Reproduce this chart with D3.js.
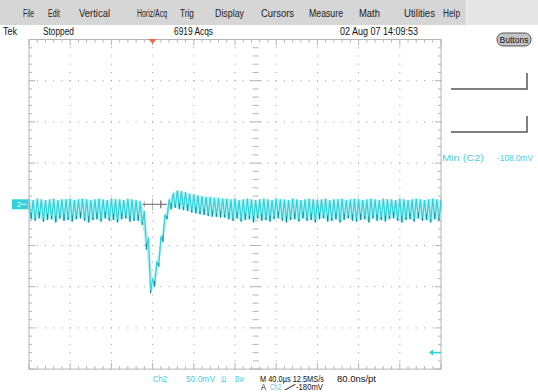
<!DOCTYPE html>
<html>
<head>
<meta charset="utf-8">
<script src="https://cdn.jsdelivr.net/npm/d3@7"></script>
<style>
  body { margin: 0; background: #fff; }
  text { font-family: "Liberation Sans", Arial, sans-serif; }
</style>
</head>
<body>
<div id="scope"></div>
<script>
/* Data */
/* ==== */

var menuItems = ["File", "Edit", "Vertical", "Horiz/Acq", "Trig", "Display",
                 "Cursors", "Measure", "Math", "Utilities", "Help"];

var statusText = ["Tek", "Stopped", "6919 Acqs", "02 Aug 07 14:09:53"];

var timeRange = [-120, 280];     // µs, 40 µs/div
var voltRange = [-200, 200];     // mV, 50 mV/div
var sampleStep = 4;              // µs between ripple peaks

// ripple peaks (mV), one every 4 µs from -120 µs
var upper = [
  6, 5, 7, 6, 5, 6, 7, 5, 6, 6,
  7, 5, 6, 7, 6, 5, 6, 7, 6, 5,
  7, 6, 6, 5, 7, 6, 5, 4, -8, -40,
  -90, -70, -40, -12, 6, 14, 17, 16, 15, 13,
  12, 11, 10, 9, 9, 8, 8, 7, 7, 6,
  7, 5, 6, 7, 6, 5, 6, 7, 6, 5,
  7, 6, 6, 5, 7, 6, 5, 6, 7, 6,
  5, 6, 7, 5, 6, 6, 7, 5, 6, 7,
  6, 5, 6, 7, 6, 5, 7, 6, 6, 5,
  7, 6, 5, 6, 7, 6, 5, 6, 7, 6,
  5
];

// ripple troughs (mV), one every 4 µs from -118 µs
var lower = [
  -18, -20, -17, -21, -19, -18, -22, -17, -20, -19,
  -21, -18, -17, -20, -22, -19, -18, -21, -17, -20,
  -19, -22, -18, -17, -21, -20, -20, -25, -55, -108,
  -100, -75, -45, -18, -6, -4, -6, -7, -8, -10,
  -11, -12, -13, -14, -15, -15, -16, -16, -18, -20,
  -17, -21, -19, -18, -22, -17, -20, -19, -21, -18,
  -17, -20, -22, -19, -18, -21, -17, -20, -19, -22,
  -18, -17, -21, -20, -18, -22, -19, -17, -20, -21,
  -19, -18, -22, -17, -20, -19, -21, -18, -17, -20,
  -22, -19, -18, -21, -17, -20, -19, -22, -18, -20
];

var triggerLevel = -180;   // mV
var measureLabel = "Min (C2)";
var measureValue = "-108.0mV";


/* Layout */
/* ====== */

var width = 538,
    height = 392;

var cyan = "#2fd2da",
    cyanText = "#49cde0",
    gridGrey = "#b4b4b4";

var svg = d3.select("#scope").append("svg")
    .attr("width", width)
    .attr("height", height);

svg.append("rect").attr("width", width).attr("height", height).attr("fill", "#fff");

// scales for the graticule
var x = d3.scaleLinear().domain(timeRange).range([29, 441]);
var y = d3.scaleLinear().domain(voltRange).range([369.1, 39.5]);

// menu bar
var barH = 25;
svg.append("rect").attr("x", 0).attr("y", 0).attr("width", 466).attr("height", barH)
    .attr("fill", "#d6d6d6");
svg.append("rect").attr("x", 466).attr("y", 0).attr("width", width - 466).attr("height", barH)
    .attr("fill", "#e6e6e6");
svg.append("line").attr("x1", 466.5).attr("x2", 466.5).attr("y1", 0).attr("y2", barH)
    .attr("stroke", "#f4f4f4");

var menuX = [23, 48, 79, 137, 180, 215, 261, 309, 359, 404, 443],
    menuW = [11, 12, 31, 30, 14, 29, 33, 34, 21, 31, 17];
svg.selectAll("text.menu")
  .data(menuItems)
  .enter().append("text")
    .attr("class", "menu")
    .attr("x", function(d, i) { return menuX[i]; })
    .attr("y", 17)
    .attr("font-size", 10)
    .attr("textLength", function(d, i) { return menuW[i]; })
    .attr("lengthAdjust", "spacingAndGlyphs")
    .attr("fill", "#222")
    .text(function(d) { return d; });

// status row
var statusX = [3, 43, 174, 340],
    statusW = [14, 31, 39, 78];
svg.selectAll("text.status")
  .data(statusText)
  .enter().append("text")
    .attr("class", "status")
    .attr("x", function(d, i) { return statusX[i]; })
    .attr("y", 35)
    .attr("font-size", 10)
    .attr("textLength", function(d, i) { return statusW[i]; })
    .attr("lengthAdjust", "spacingAndGlyphs")
    .attr("fill", "#111")
    .text(function(d) { return d; });

// Buttons
svg.append("rect").attr("x", 497).attr("y", 33).attr("width", 34).attr("height", 13)
    .attr("rx", 6).attr("fill", "#c4c4c4").attr("stroke", "#555").attr("stroke-width", 1);
svg.append("text").attr("x", 514).attr("y", 43).attr("text-anchor", "middle")
    .attr("font-size", 8.5).attr("fill", "#111").text("Buttons");


/* Graticule */
/* ========= */

var g = svg.append("g");
var divT = d3.range(timeRange[0], timeRange[1] + 1, 40),
    divV = d3.range(voltRange[0], voltRange[1] + 1, 50),
    minorT = d3.range(timeRange[0], timeRange[1] + 1, 8),
    minorV = d3.range(voltRange[0], voltRange[1] + 1, 10);

// dotted grid
divT.slice(1, -1).forEach(function(t) {
  minorV.forEach(function(v) {
    g.append("rect").attr("x", x(t) - 0.5).attr("y", y(v) - 0.5)
      .attr("width", 1).attr("height", 1).attr("fill", "#9a9a9a");
  });
});
divV.slice(1, -1).forEach(function(v) {
  minorT.forEach(function(t) {
    g.append("rect").attr("x", x(t) - 0.5).attr("y", y(v) - 0.5)
      .attr("width", 1).attr("height", 1).attr("fill", "#9a9a9a");
  });
});

// border
g.append("rect")
    .attr("x", x(timeRange[0])).attr("y", y(voltRange[1]))
    .attr("width", x(timeRange[1]) - x(timeRange[0]))
    .attr("height", y(voltRange[0]) - y(voltRange[1]))
    .attr("fill", "none").attr("stroke", gridGrey).attr("stroke-width", 1);

function isMajorT(t) { return (t - timeRange[0]) % 40 === 0; }
function isMajorV(v) { return (v - voltRange[0]) % 50 === 0; }

// border ticks and center-line ticks
minorT.forEach(function(t) {
  var len = isMajorT(t) ? 6 : 3;
  g.append("line").attr("x1", x(t)).attr("x2", x(t))
    .attr("y1", y(voltRange[1])).attr("y2", y(voltRange[1]) + len)
    .attr("stroke", gridGrey);
  g.append("line").attr("x1", x(t)).attr("x2", x(t))
    .attr("y1", y(voltRange[0])).attr("y2", y(voltRange[0]) - len)
    .attr("stroke", gridGrey);
  g.append("line").attr("x1", x(t)).attr("x2", x(t))
    .attr("y1", y(0) - len).attr("y2", y(0) + len)
    .attr("stroke", gridGrey);
});
minorV.forEach(function(v) {
  var len = isMajorV(v) ? 6 : 3;
  g.append("line").attr("y1", y(v)).attr("y2", y(v))
    .attr("x1", x(timeRange[0])).attr("x2", x(timeRange[0]) + len)
    .attr("stroke", gridGrey);
  g.append("line").attr("y1", y(v)).attr("y2", y(v))
    .attr("x1", x(timeRange[1])).attr("x2", x(timeRange[1]) - len)
    .attr("stroke", gridGrey);
  g.append("line").attr("y1", y(v)).attr("y2", y(v))
    .attr("x1", x(100) - len).attr("x2", x(100) + len)
    .attr("stroke", gridGrey);
});


/* Trace */
/* ===== */

var peaks = upper.map(function(v, i) {
  return { t: timeRange[0] + i * sampleStep, v: v };
});
var troughs = lower.map(function(v, i) {
  return { t: timeRange[0] + sampleStep / 2 + i * sampleStep, v: v };
});

var zig = [];
peaks.forEach(function(p, i) {
  zig.push(p);
  if (troughs[i]) zig.push(troughs[i]);
});

var line = d3.line()
    .x(function(d) { return x(d.t); })
    .y(function(d) { return y(d.v); });

// persistence glow between envelopes
svg.append("path")
    .attr("d", line(peaks.concat(troughs.slice().reverse())) + "Z")
    .attr("fill", "#bff0f3");

svg.append("path")
    .attr("d", line(zig))
    .attr("fill", "none")
    .attr("stroke", cyan)
    .attr("stroke-width", 1.2);

// darker persistence at the troughs
svg.selectAll("line.dark")
  .data(troughs)
  .enter().append("line")
    .attr("class", "dark")
    .attr("x1", function(d) { return x(d.t); })
    .attr("x2", function(d) { return x(d.t); })
    .attr("y1", function(d) { return y(d.v); })
    .attr("y2", function(d, i) { return y(d.v) - (i % 2 ? 3 : 6); })
    .attr("stroke", "#1b8088")
    .attr("stroke-width", 1);

// trigger crosshair
svg.append("line").attr("x1", x(-10)).attr("x2", x(14)).attr("y1", y(0)).attr("y2", y(0))
    .attr("stroke", "#666").attr("stroke-width", 1);
svg.append("line").attr("x1", x(8)).attr("x2", x(8)).attr("y1", y(0) - 4).attr("y2", y(0) + 4)
    .attr("stroke", "#666").attr("stroke-width", 1);

// trigger position marker
svg.append("path")
    .attr("d", "M" + (x(0) - 4) + "," + 39 + "L" + (x(0) + 4) + "," + 39 + "L" + x(0) + "," + 44 + "Z")
    .attr("fill", "#f26a3c");

// channel 2 ground marker
svg.append("rect").attr("x", 12).attr("y", y(0) - 5).attr("width", 16).attr("height", 10)
    .attr("fill", cyan);
svg.append("text").attr("x", 17).attr("y", y(0) + 3).attr("font-size", 7)
    .attr("fill", "#fff").text("2");
svg.append("line").attr("x1", 21).attr("x2", 27).attr("y1", y(0)).attr("y2", y(0))
    .attr("stroke", "#fff").attr("stroke-width", 0.8);

// trigger level arrow
svg.append("path")
    .attr("d", "M" + (x(timeRange[1]) - 12) + "," + y(triggerLevel) + "l4,-3l0,6Z")
    .attr("fill", cyan);
svg.append("line").attr("x1", x(timeRange[1]) - 9).attr("x2", x(timeRange[1]))
    .attr("y1", y(triggerLevel)).attr("y2", y(triggerLevel))
    .attr("stroke", cyan).attr("stroke-width", 1.5);


/* Readouts */
/* ======== */

[89, 132].forEach(function(yy) {
  svg.append("path")
    .attr("d", "M451," + yy + "H527V" + (yy - 16))
    .attr("fill", "none").attr("stroke", "#555").attr("stroke-width", 1.5);
});

svg.append("text").attr("x", 442).attr("y", 160.5).attr("font-size", 8.5)
    .attr("textLength", 42).attr("lengthAdjust", "spacingAndGlyphs")
    .attr("fill", cyanText).text(measureLabel);
svg.append("text").attr("x", 497).attr("y", 160.5).attr("font-size", 8.5)
    .attr("textLength", 36).attr("lengthAdjust", "spacingAndGlyphs")
    .attr("fill", cyanText).text(measureValue);

var bottom1 = [
  { s: "Ch2", x: 153, w: 14, c: cyanText },
  { s: "50.0mV", x: 186, w: 29, c: cyanText },
  { s: "\u0428", x: 221, w: 5, c: cyanText },
  { s: "Bw", x: 235, w: 9, c: cyanText },
  { s: "M 40.0\u00b5s 12.5MS/s", x: 260, w: 64, c: "#111" },
  { s: "80.0ns/pt", x: 337, w: 39, c: "#111" }
];
var bottom2 = [
  { s: "A", x: 261, w: 5, c: "#111" },
  { s: "Ch2", x: 270, w: 11, c: cyanText },
  { s: "\u2215", x: 289, w: 4, c: "#111" },
  { s: "-180mV", x: 296, w: 27, c: "#111" }
];
svg.selectAll("text.b1").data(bottom1).enter().append("text")
    .attr("x", function(d) { return d.x; }).attr("y", 381.5)
    .attr("font-size", 9)
    .attr("textLength", function(d) { return d.w; })
    .attr("lengthAdjust", "spacingAndGlyphs")
    .attr("fill", function(d) { return d.c; })
    .text(function(d) { return d.s; });
svg.selectAll("text.b2").data(bottom2).enter().append("text")
    .attr("x", function(d) { return d.x; }).attr("y", 390)
    .attr("font-size", 8.5)
    .attr("textLength", function(d) { return d.w; })
    .attr("lengthAdjust", "spacingAndGlyphs")
    .attr("fill", function(d) { return d.c; })
    .text(function(d) { return d.s; });
</script>
</body>
</html>
